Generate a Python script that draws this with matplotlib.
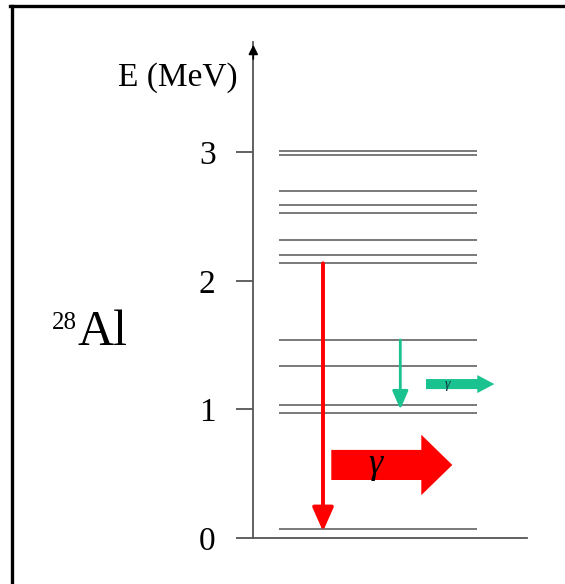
import numpy as np
import matplotlib
matplotlib.use('Agg')
import matplotlib.pyplot as plt
from matplotlib.lines import Line2D
from matplotlib.patches import FancyArrow

plt.rcParams['font.family'] = ['Liberation Serif', 'DejaVu Serif']

# level energies of 28Al (MeV), as drawn
levels = [0.072, 0.972, 1.037, 1.34, 1.54, 2.136, 2.203, 2.317,
          2.527, 2.59, 2.70, 2.98, 3.01]
yticks = [0, 1, 2, 3]
red_transition = (2.136, 0.072)    # from, to
green_transition = (1.54, 1.0)
nucleus = '28'
element = 'Al'
ylabel = 'E (MeV)'

W, H = 565, 584
fig = plt.figure(figsize=(W / 100, H / 100), dpi=100)

# inner axes: x in pixel-like units, y in MeV
x0, x1 = 253.3, 527
ybase = 538
ppm = 128.6   # pixels per MeV
ytop_px = 42
ax = fig.add_axes([x0 / W, (H - ybase) / H, (x1 - x0) / W, (ybase - ytop_px) / H])
ax.set_xlim(0, x1 - x0)
ax.set_ylim(0, (ybase - ytop_px) / ppm)

for s in ['top', 'right']:
    ax.spines[s].set_visible(False)
for s in ['left', 'bottom']:
    ax.spines[s].set_color('#555555')
    ax.spines[s].set_linewidth(1.3)
ax.set_xticks([])
ax.set_yticks(yticks)
ax.tick_params(axis='y', direction='out', length=12.2, width=1.3, color='#555555',
               pad=15, labelsize=24)

# arrow head on the energy axis
ax.annotate('', xy=(0, 1.0), xycoords='axes fraction', xytext=(0, 0.96),
            arrowprops=dict(arrowstyle='-|>', color='black', lw=1.2, mutation_scale=14))

# level lines
for e in levels:
    ax.plot([26, 224], [e, e], color='#6e6e6e', lw=1.3, solid_capstyle='butt')

# transitions
ax.annotate('', xy=(69.7, red_transition[1] - 0.02), xytext=(69.7, red_transition[0]),
            arrowprops=dict(arrowstyle='-|>,head_length=0.9,head_width=0.4',
                            color='#ff0000', lw=2.8, mutation_scale=16,
                            shrinkA=0, shrinkB=0))
ax.annotate('', xy=(147, green_transition[1]), xytext=(147, green_transition[0]),
            arrowprops=dict(arrowstyle='-|>,head_length=0.7,head_width=0.3',
                            color='#19c28f', lw=2.0, mutation_scale=16,
                            shrinkA=0, shrinkB=0))

# gamma emission block arrows
ax.add_patch(FancyArrow(78, 0.568, 121, 0, width=0.234, head_width=0.47,
                        head_length=31, length_includes_head=True,
                        color='#ff0000', lw=0))
ax.text(122, 0.568, 'γ', fontsize=26, ha='center', va='center', color='black',
        fontstyle='italic')
ax.add_patch(FancyArrow(172.7, 1.197, 68.3, 0, width=0.078, head_width=0.14,
                        head_length=17, length_includes_head=True,
                        color='#19c28f', lw=0))
ax.text(194, 1.197, 'γ', fontsize=10, ha='center', va='center', color='#103040',
        fontstyle='italic')

# labels
fig.text(178 / W, (H - 78) / H, ylabel, fontsize=24, ha='center', va='center')
fig.text(77 / W, (H - 329) / H, nucleus, fontsize=18, ha='right', va='baseline')
fig.text(78 / W, (H - 345) / H, element, fontsize=36, ha='left', va='baseline')

# frame (left and top edges)
fig.add_artist(Line2D([11.5 / W, 11.5 / W], [0, (H - 6) / H], color='black', lw=2.4,
                      transform=fig.transFigure))
fig.add_artist(Line2D([10 / W, 1], [(H - 6) / H, (H - 6) / H], color='black', lw=2.4,
                      transform=fig.transFigure))

fig.savefig('out.png', dpi=100)
